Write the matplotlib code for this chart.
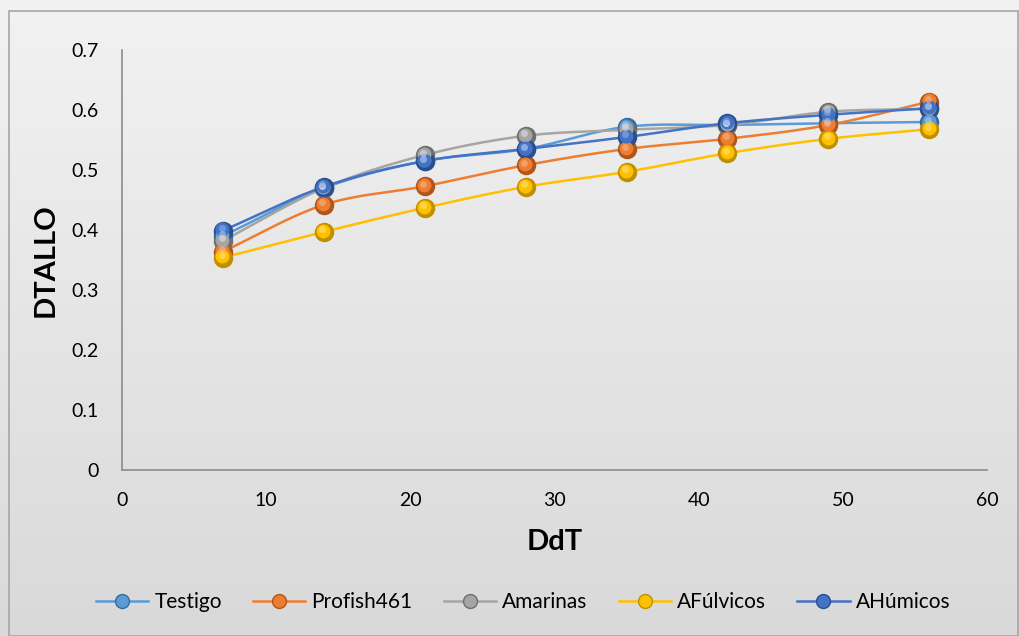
import numpy as np
import matplotlib
matplotlib.use("Agg")
import matplotlib.pyplot as plt
from matplotlib.transforms import offset_copy
from matplotlib.patches import Rectangle

plt.rcParams['font.family'] = ['Lato', 'DejaVu Sans']

# datos
ddt = [7, 14, 21, 28, 35, 42, 49, 56]
testigo = [0.390, 0.470, 0.515, 0.535, 0.572, 0.575, 0.578, 0.580]
profish = [0.364, 0.442, 0.473, 0.508, 0.535, 0.552, 0.575, 0.614]
amarinas = [0.382, 0.470, 0.525, 0.557, 0.567, 0.575, 0.597, 0.602]
afulvicos = [0.354, 0.397, 0.437, 0.472, 0.497, 0.528, 0.552, 0.568]
ahumicos = [0.399, 0.472, 0.515, 0.535, 0.555, 0.578, 0.592, 0.603]

nombres = ["Testigo", "Profish461", "Amarinas", "AFúlvicos", "AHúmicos"]
series = [testigo, profish, amarinas, afulvicos, ahumicos]
colores = ["#5B9BD5", "#ED7D31", "#A5A5A5", "#FFC000", "#4472C4"]
oscuros = ["#2E6CA4", "#B0561A", "#6E6E6E", "#C08F00", "#2A4F8F"]
claros = ["#A9CDEE", "#F7B78A", "#E2E2E2", "#FFE27A", "#8FAEE6"]


def suavizar(x, y, n=20):
    # curva tipo Catmull-Rom (linea suavizada de Excel)
    x = np.asarray(x, float)
    y = np.asarray(y, float)
    px = np.concatenate([[2 * x[0] - x[1]], x, [2 * x[-1] - x[-2]]])
    py = np.concatenate([[2 * y[0] - y[1]], y, [2 * y[-1] - y[-2]]])
    xs, ys = [], []
    t = np.linspace(0, 1, n)
    for i in range(1, len(px) - 2):
        for p, out in ((px, xs), (py, ys)):
            p0, p1, p2, p3 = p[i - 1], p[i], p[i + 1], p[i + 2]
            c = 0.5 * ((2 * p1) + (-p0 + p2) * t
                       + (2 * p0 - 5 * p1 + 4 * p2 - p3) * t ** 2
                       + (-p0 + 3 * p1 - 3 * p2 + p3) * t ** 3)
            out.extend(c)
    return xs, ys


fig = plt.figure(figsize=(10.2, 6.36), dpi=100)

# fondo degradado
bg = fig.add_axes([0, 0, 1, 1], zorder=-10)
grad = np.linspace(0, 1, 256).reshape(-1, 1)
bg.imshow(grad, aspect='auto', cmap=matplotlib.colors.LinearSegmentedColormap.from_list(
    'g', ['#F2F2F2', '#D9D9D9']), extent=[0, 1, 0, 1])
bg.add_patch(Rectangle((9 / 1020, 0.0), 1009 / 1020, 1 - 11 / 636, fill=False,
                       edgecolor='#A6A6A6', linewidth=1.2, transform=bg.transAxes))
bg.set_xlim(0, 1)
bg.set_ylim(0, 1)
bg.axis('off')

ax = fig.add_axes([122 / 1020, 1 - 470 / 636, 865 / 1020, 420 / 636])
ax.patch.set_alpha(0)

for nombre, y, c, co, cl in zip(nombres, series, colores, oscuros, claros):
    xs, ys = suavizar(ddt, y)
    ax.plot(xs, ys, color=c, linewidth=1.8, zorder=2)
    ax.plot(ddt, y, linestyle='none', marker='o', markersize=13,
            markerfacecolor=co, markeredgecolor=co, zorder=3)
    ax.plot(ddt, y, linestyle='none', marker='o', markersize=10,
            markerfacecolor=c, markeredgecolor='none', zorder=4,
            transform=offset_copy(ax.transData, fig=fig, x=-0.5, y=0.8, units='points'))
    ax.plot(ddt, y, linestyle='none', marker='o', markersize=5,
            markerfacecolor=cl, markeredgecolor='none', zorder=5, alpha=0.6,
            transform=offset_copy(ax.transData, fig=fig, x=-1.0, y=1.8, units='points'))
    # entrada de leyenda
    ax.plot([], [], color=c, linewidth=1.8, marker='o', markersize=10,
            markerfacecolor=c, markeredgecolor=co, label=nombre)

ax.set_xlim(0, 60)
ax.set_ylim(0, 0.7)
ax.set_xticks(range(0, 61, 10))
ax.set_yticks([0, 0.1, 0.2, 0.3, 0.4, 0.5, 0.6, 0.7])
ax.set_yticklabels(["0", "0.1", "0.2", "0.3", "0.4", "0.5", "0.6", "0.7"])
for s in ['top', 'right']:
    ax.spines[s].set_visible(False)
for s in ['left', 'bottom']:
    ax.spines[s].set_color('#8C8C8C')
    ax.spines[s].set_linewidth(1.2)
ax.tick_params(axis='both', length=0, labelsize=14, colors='black')
ax.tick_params(axis='x', pad=16)
ax.tick_params(axis='y', pad=17)

ax.set_xlabel("DdT", fontsize=21, fontweight='bold', labelpad=14)
ax.set_ylabel("DTALLO", fontsize=21, fontweight='bold', labelpad=9)

fig.legend(loc='center', bbox_to_anchor=(0.513, 1 - 602 / 636), ncol=5, frameon=False,
           fontsize=15, handlelength=2.5, columnspacing=1.5, handletextpad=0.3)

fig.savefig("out.png", dpi=100)
